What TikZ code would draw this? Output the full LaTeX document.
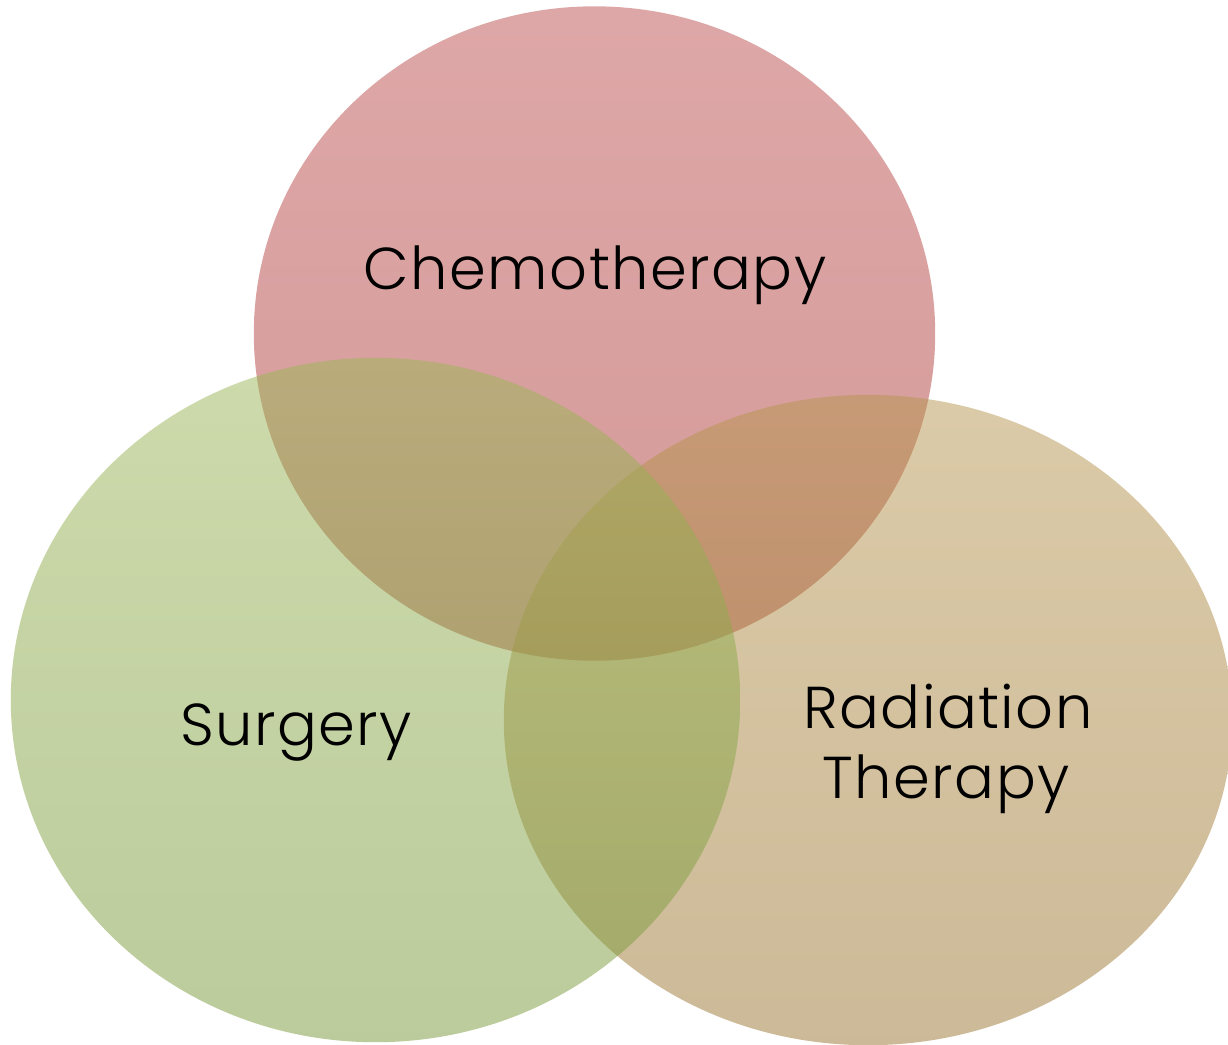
\documentclass[tikz,border=0pt]{standalone}
\usepackage{fontspec}
\setmainfont{Poppins}[UprightFont={* Light}, LetterSpace=2.5]
\usetikzlibrary{shapes.geometric}
\definecolor{chemTop}{RGB}{191,81,81}
\definecolor{chemBot}{RGB}{167,53,49}
\definecolor{surgTop}{RGB}{157,183,89}
\definecolor{surgBot}{RGB}{121,153,57}
\definecolor{radTop}{RGB}{185,151,81}
\definecolor{radBot}{RGB}{155,117,49}
\tikzset{
  venn/.style={ellipse, draw=none, inner sep=0pt, outer sep=0pt, fill opacity=0.5},
  label text/.style={anchor=base, inner sep=0pt, text=black, font=\fontsize{16.8pt}{19.9pt}\selectfont}
}
\begin{document}
\begin{tikzpicture}[x=0.01cm,y=0.01cm]
\useasboundingbox (0,0) rectangle (1228,1044);
\fill[white] (0,0) rectangle (1228,1044);
\node[venn, top color=chemTop, bottom color=chemBot, minimum width=6.81cm, minimum height=6.54cm] (chem) at (594.5,710.5) {};
\node[venn, top color=radTop, bottom color=radBot, minimum width=7.28cm, minimum height=6.50cm] (rad) at (868,324) {};
\node[venn, top color=surgTop, bottom color=surgBot, minimum width=7.29cm, minimum height=6.84cm] (surg) at (375.5,344) {};
\node[label text] (chemlabel) at (595,755) {Chemotherapy};
\node[label text] (surglabel) at (296,299) {Surgery};
\node[label text] (radlabel1) at (948,316) {Radiation};
\node[label text] (radlabel2) at (946,246) {Therapy};
\end{tikzpicture}
\end{document}
